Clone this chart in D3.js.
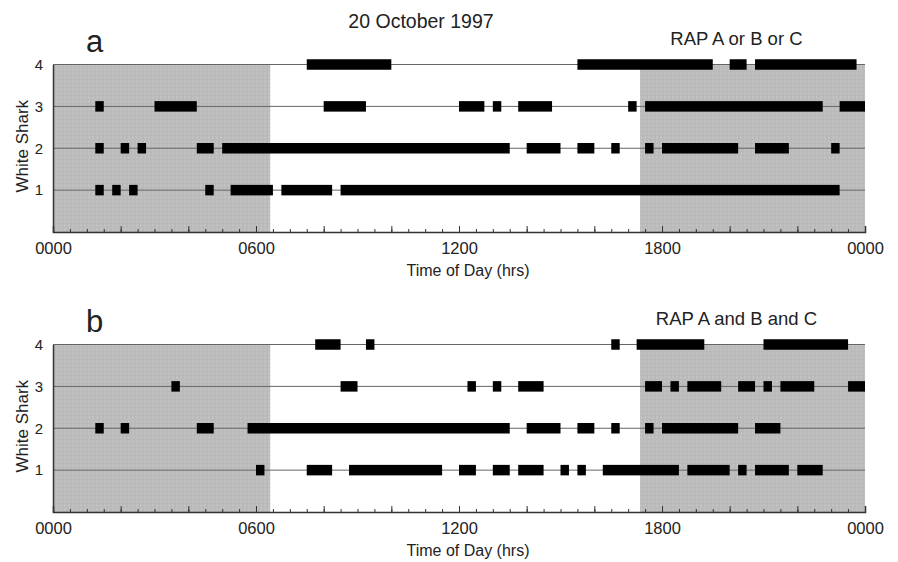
<!DOCTYPE html>
<html>
<head>
<meta charset="utf-8">
<script src="https://cdn.jsdelivr.net/npm/d3@7"></script>
<style>
  html, body { margin: 0; padding: 0; background: #fff; }
  svg text { font-family: "Liberation Sans", Arial, Helvetica, sans-serif; fill: #222; }
</style>
</head>
<body>
<svg id="chart" width="898" height="562"></svg>
<script>
// detection periods, hours of day [start, end], one array per shark
const orShark1 = [[1.25, 1.5], [1.75, 2], [2.25, 2.5], [4.5, 4.75], [5.25, 6.5], [6.75, 8.25], [8.5, 23.25]];
const orShark2 = [[1.25, 1.5], [2, 2.25], [2.5, 2.75], [4.25, 4.75], [5, 13.5], [14, 15], [15.5, 16], [16.5, 16.75],
    [17.5, 17.75], [18, 20.25], [20.75, 21.75], [23, 23.25]];
const orShark3 = [[1.25, 1.5], [3, 4.25], [8, 9.25], [12, 12.75], [13, 13.25], [13.75, 14.75], [17, 17.25],
    [17.5, 22.75], [23.25, 24]];
const orShark4 = [[7.5, 10], [15.5, 19.5], [20, 20.5], [20.75, 23.75]];

const andShark1 = [[6, 6.25], [7.5, 8.25], [8.75, 11.5], [12, 12.5], [13, 13.5], [13.75, 14.5], [15, 15.25],
    [15.5, 15.75], [16.25, 18.5], [18.75, 20], [20.25, 20.5], [20.75, 21.75], [22, 22.75]];
const andShark2 = [[1.25, 1.5], [2, 2.25], [4.25, 4.75], [5.75, 13.5], [14, 15], [15.5, 16], [16.5, 16.75],
    [17.5, 17.75], [18, 20.25], [20.75, 21.5]];
const andShark3 = [[3.5, 3.75], [8.5, 9], [12.25, 12.5], [13, 13.25], [13.75, 14.5], [17.5, 18], [18.25, 18.5],
    [18.75, 19.75], [20.25, 20.75], [21, 21.25], [21.5, 22.5], [23.5, 24]];
const andShark4 = [[7.75, 8.5], [9.25, 9.5], [16.5, 16.75], [17.25, 19.25], [21, 23.5]];

// night (shaded) periods, hours
const nightPeriods = [[0, 6.42], [17.35, 24]];

const sharks = [1, 2, 3, 4];
const hourLabels = [0, 6, 12, 18, 24];
const hourLabelText = ['0000', '0600', '1200', '1800', '0000'];

const panels = [
    { letter: 'a', caption: 'RAP A or B or C', rows: [orShark1, orShark2, orShark3, orShark4] },
    { letter: 'b', caption: 'RAP A and B and C', rows: [andShark1, andShark2, andShark3, andShark4] }
];

const svg = d3.select('#chart');
const left = 53, right = 865;
const x = d3.scaleLinear().domain([0, 24]).range([left, right]);

// faint halftone texture for the shaded night areas
const pat = svg.append('defs').append('pattern')
    .attr('id', 'halftone')
    .attr('width', 4).attr('height', 4)
    .attr('patternUnits', 'userSpaceOnUse');
pat.append('rect').attr('width', 4).attr('height', 4).attr('fill', '#bababa');
pat.append('rect').attr('width', 2).attr('height', 2).attr('fill', '#c3c3c3');

svg.append('text')
    .attr('x', 421).attr('y', 28)
    .attr('text-anchor', 'middle')
    .style('font-size', '19.5px')
    .text('20 October 1997');

function drawPanel(panel, top) {
    const g = svg.append('g').attr('transform', `translate(0,${top})`);
    const y = d3.scaleLinear().domain([0, 4]).range([167.5, 0]);

    // night shading
    g.selectAll('rect.night')
        .data(nightPeriods)
        .join('rect')
        .attr('class', 'night')
        .attr('x', d => x(d[0]))
        .attr('width', d => x(d[1]) - x(d[0]))
        .attr('y', y(4))
        .attr('height', y(0) - y(4))
        .attr('fill', 'url(#halftone)');

    // row lines
    g.selectAll('line.row')
        .data(sharks)
        .join('line')
        .attr('class', 'row')
        .attr('x1', left).attr('x2', right)
        .attr('y1', d => y(d)).attr('y2', d => y(d))
        .attr('stroke', '#666')
        .attr('stroke-width', 1);

    // detection bars
    const barH = 10.5;
    panel.rows.forEach((events, i) => {
        g.append('g').selectAll('rect')
            .data(events)
            .join('rect')
            .attr('x', d => x(d[0]))
            .attr('width', d => x(d[1]) - x(d[0]))
            .attr('y', y(sharks[i]) - barH / 2)
            .attr('height', barH)
            .attr('fill', '#000');
    });

    // x axis: minor ticks every half hour, major every 2 hours, all inward
    const minor = g.append('g')
        .attr('transform', `translate(0,${y(0)})`)
        .call(d3.axisBottom(x).tickValues(d3.range(0, 24.01, 0.5)).tickSize(-3).tickFormat(''));
    minor.select('.domain').remove();
    minor.selectAll('line').attr('stroke', '#333');

    const major = g.append('g')
        .attr('transform', `translate(0,${y(0)})`)
        .call(d3.axisBottom(x).tickValues(d3.range(0, 24.01, 2)).tickSize(-6).tickFormat(''));
    major.select('.domain').attr('stroke', '#333').attr('stroke-width', 1.5);
    major.selectAll('line').attr('stroke', '#333');

    const labels = g.append('g')
        .attr('transform', `translate(0,${y(0)})`)
        .call(d3.axisBottom(x).tickValues(hourLabels).tickSize(0).tickPadding(10)
            .tickFormat((d, i) => hourLabelText[i]));
    labels.select('.domain').remove();
    labels.selectAll('text')
        .style('font-size', '16.5px')
        .style('font-family', '"Liberation Sans", Arial, sans-serif')
        .attr('fill', '#222');

    // y axis
    const ya = g.append('g')
        .attr('transform', `translate(${left},0)`)
        .call(d3.axisLeft(y).tickValues(sharks).tickSize(0).tickPadding(10).tickFormat(d3.format('d')));
    ya.select('.domain').attr('stroke', '#333').attr('stroke-width', 1.5);
    ya.selectAll('text')
        .style('font-size', '15px')
        .style('font-family', '"Liberation Sans", Arial, sans-serif')
        .attr('fill', '#222');

    g.append('text')
        .attr('transform', `translate(28,${(y(0) + y(4)) / 2 - 2}) rotate(-90)`)
        .attr('text-anchor', 'middle')
        .style('font-size', '17px')
        .text('White Shark');

    g.append('text')
        .attr('x', 468).attr('y', y(0) + 44)
        .attr('text-anchor', 'middle')
        .style('font-size', '16px')
        .text('Time of Day (hrs)');

    g.append('text')
        .attr('x', 86).attr('y', -13)
        .style('font-size', '31px')
        .text(panel.letter);

    g.append('text')
        .attr('x', x(20.2)).attr('y', -20)
        .attr('text-anchor', 'middle')
        .style('font-size', '18.5px')
        .text(panel.caption);
}

drawPanel(panels[0], 64.5);
drawPanel(panels[1], 344.5);
</script>
</body>
</html>
